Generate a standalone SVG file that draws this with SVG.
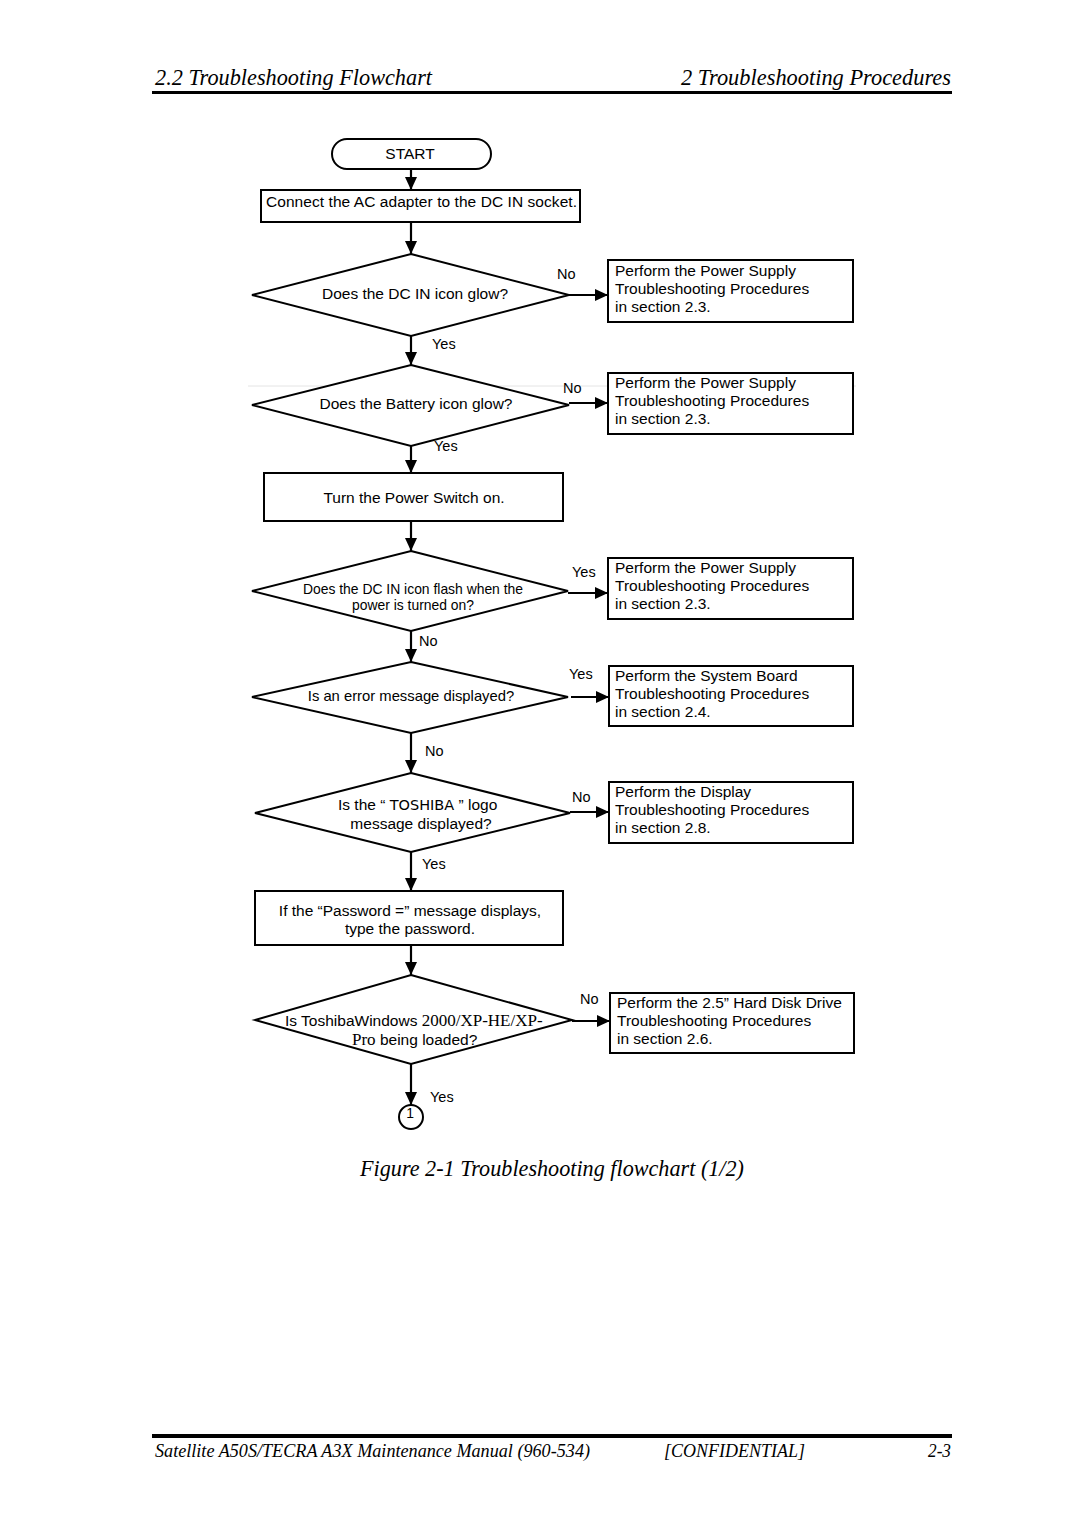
<svg xmlns="http://www.w3.org/2000/svg" width="1080" height="1527" viewBox="0 0 1080 1527">
<defs>
<marker id="ah" markerUnits="userSpaceOnUse" markerWidth="14" markerHeight="12" refX="13" refY="6" orient="auto">
<path d="M0,0 L13,6 L0,12 Z" fill="#000"/>
</marker>
<style>
.hdr{font-family:"Liberation Serif","Times New Roman",serif;font-style:italic;font-size:22.5px;fill:#000}
.ftr{font-family:"Liberation Serif","Times New Roman",serif;font-style:italic;font-size:18px;fill:#000}
.t{font-family:"Liberation Sans",Arial,sans-serif;font-size:15.5px;fill:#000}
.ts{font-family:"Liberation Sans",Arial,sans-serif;font-size:13.9px;fill:#000}
.lbl{font-family:"Liberation Sans",Arial,sans-serif;font-size:14.5px;fill:#000}
.sf{font-family:"Liberation Serif","Times New Roman",serif;font-size:17px}
.shape{fill:#fff;stroke:#000;stroke-width:2}
.c{stroke:#000;stroke-width:2.2;fill:none;marker-end:url(#ah)}
.m{text-anchor:middle}
</style>
</defs>
<rect width="1080" height="1527" fill="#fff"/>

<!-- header -->
<text class="hdr" x="155" y="85" textLength="277" lengthAdjust="spacingAndGlyphs">2.2  Troubleshooting Flowchart</text>
<text class="hdr" x="681" y="85" textLength="270" lengthAdjust="spacingAndGlyphs">2  Troubleshooting Procedures</text>
<rect x="152" y="91" width="800" height="3" fill="#000"/>

<!-- faint scan line -->
<line x1="248" y1="386" x2="856" y2="386" stroke="#e4e4e4" stroke-width="1"/>

<g id="connectors">
<line class="c" x1="411" y1="169" x2="411" y2="190"/>
<line class="c" x1="411" y1="222" x2="411" y2="254"/>
<line class="c" x1="569" y1="295" x2="608" y2="295"/>
<line class="c" x1="411" y1="336" x2="411" y2="365"/>
<line class="c" x1="569" y1="403" x2="608" y2="403"/>
<line class="c" x1="411" y1="446" x2="411" y2="473"/>
<line class="c" x1="411" y1="521" x2="411" y2="551"/>
<line class="c" x1="568" y1="593" x2="608" y2="593"/>
<line class="c" x1="411" y1="631" x2="411" y2="662"/>
<line class="c" x1="571" y1="697" x2="609" y2="697"/>
<line class="c" x1="411" y1="733" x2="411" y2="773"/>
<line class="c" x1="570" y1="812" x2="609" y2="812"/>
<line class="c" x1="411" y1="852" x2="411" y2="891"/>
<line class="c" x1="411" y1="945" x2="411" y2="975"/>
<line class="c" x1="572" y1="1021" x2="610" y2="1021"/>
<line class="c" x1="411" y1="1064" x2="411" y2="1105"/>
<text class="lbl" x="557" y="279">No</text>
<text class="lbl" x="432" y="349">Yes</text>
<text class="lbl" x="563" y="393">No</text>
<text class="lbl" x="434" y="451">Yes</text>
<text class="lbl" x="572" y="577">Yes</text>
<text class="lbl" x="419" y="646">No</text>
<text class="lbl" x="569" y="679">Yes</text>
<text class="lbl" x="425" y="756">No</text>
<text class="lbl" x="572" y="802">No</text>
<text class="lbl" x="422" y="869">Yes</text>
<text class="lbl" x="580" y="1004">No</text>
<text class="lbl" x="430" y="1102">Yes</text>
</g>

<g id="start">
<rect class="shape" x="332" y="139" width="159" height="30" rx="15" ry="15"/>
<text class="t m" x="410" y="159">START</text>
</g>

<g id="connect-ac">
<rect class="shape" x="261" y="190" width="319" height="32"/>
<text class="t" x="266" y="207" textLength="311">Connect the AC adapter to the DC IN socket.</text>
</g>

<g id="dcin-glow">
<polygon class="shape" points="411,254 569,295 411,336 252,295"/>
<text class="t m" x="415" y="299">Does the DC IN icon glow?</text>
</g>

<g id="power-supply-1">
<rect class="shape" x="608" y="260" width="245" height="62"/>
<text class="t" x="615" y="276">Perform the Power Supply</text>
<text class="t" x="615" y="294">Troubleshooting Procedures</text>
<text class="t" x="615" y="312">in section 2.3.</text>
</g>

<g id="battery-glow">
<polygon class="shape" points="411,365 569,405 411,446 252,405"/>
<text class="t m" x="416" y="409">Does the Battery icon glow?</text>
</g>

<g id="power-supply-2">
<rect class="shape" x="608" y="373" width="245" height="61"/>
<text class="t" x="615" y="388">Perform the Power Supply</text>
<text class="t" x="615" y="406">Troubleshooting Procedures</text>
<text class="t" x="615" y="424">in section 2.3.</text>
</g>

<g id="power-switch">
<rect class="shape" x="264" y="473" width="299" height="48"/>
<text class="t m" x="414" y="503">Turn the Power Switch on.</text>
</g>

<g id="dcin-flash">
<polygon class="shape" points="411,551 568,591 411,631 252,591"/>
<text class="ts m" x="413" y="594">Does the DC IN icon flash when the</text>
<text class="ts m" x="413" y="610">power is turned on?</text>
</g>

<g id="power-supply-3">
<rect class="shape" x="608" y="558" width="245" height="61"/>
<text class="t" x="615" y="573">Perform the Power Supply</text>
<text class="t" x="615" y="591">Troubleshooting Procedures</text>
<text class="t" x="615" y="609">in section 2.3.</text>
</g>

<g id="error-message">
<polygon class="shape" points="411,662 568,697 411,733 252,697"/>
<text class="t m" x="411" y="701" style="font-size:14.8px">Is an error message displayed?</text>
</g>

<g id="system-board">
<rect class="shape" x="609" y="666" width="244" height="60"/>
<text class="t" x="615" y="681">Perform the System Board</text>
<text class="t" x="615" y="699">Troubleshooting Procedures</text>
<text class="t" x="615" y="717">in section 2.4.</text>
</g>

<g id="toshiba-logo">
<polygon class="shape" points="411,773 570,813 411,852 255,813"/>
<text class="t" x="338" y="810">Is the “ <tspan style="font-family:'DejaVu Sans',sans-serif;font-size:14.5px">TOSHIBA</tspan>  ” logo</text>
<text class="t m" x="421" y="829">message displayed?</text>
</g>

<g id="display">
<rect class="shape" x="609" y="782" width="244" height="61"/>
<text class="t" x="615" y="797">Perform the Display</text>
<text class="t" x="615" y="815">Troubleshooting Procedures</text>
<text class="t" x="615" y="833">in section 2.8.</text>
</g>

<g id="password">
<rect class="shape" x="255" y="891" width="308" height="54"/>
<text class="t m" x="410" y="916">If the “Password =” message displays,</text>
<text class="t m" x="410" y="934">type the password.</text>
</g>

<g id="windows-loaded">
<polygon class="shape" points="411,975 572,1020 411,1064 255,1020"/>
<text class="t" x="285" y="1026">Is ToshibaWindows <tspan class="sf">2000/XP-HE/XP-</tspan></text>
<text class="t" x="352" y="1045"><tspan class="sf">Pro</tspan> being loaded?</text>
</g>

<g id="hdd">
<rect class="shape" x="610" y="993" width="244" height="60"/>
<text class="t" x="617" y="1008">Perform the 2.5” Hard Disk Drive</text>
<text class="t" x="617" y="1026">Troubleshooting Procedures</text>
<text class="t" x="617" y="1044">in section 2.6.</text>
</g>

<g id="connector-1">
<circle class="shape" cx="411" cy="1117" r="12"/>
<text class="ts m" x="410" y="1118">1</text>
</g>

<text class="hdr" x="360" y="1176" textLength="384" lengthAdjust="spacingAndGlyphs">Figure 2-1  Troubleshooting flowchart (1/2)</text>

<!-- footer -->
<rect x="152" y="1434" width="800" height="4" fill="#000"/>
<text class="ftr" x="155" y="1457" textLength="435" lengthAdjust="spacingAndGlyphs">Satellite A50S/TECRA A3X Maintenance Manual (960-534)</text>
<text class="ftr" x="664" y="1457" textLength="141" lengthAdjust="spacingAndGlyphs">[CONFIDENTIAL]</text>
<text class="ftr" x="928" y="1457" textLength="23" lengthAdjust="spacingAndGlyphs">2-3</text>
</svg>
